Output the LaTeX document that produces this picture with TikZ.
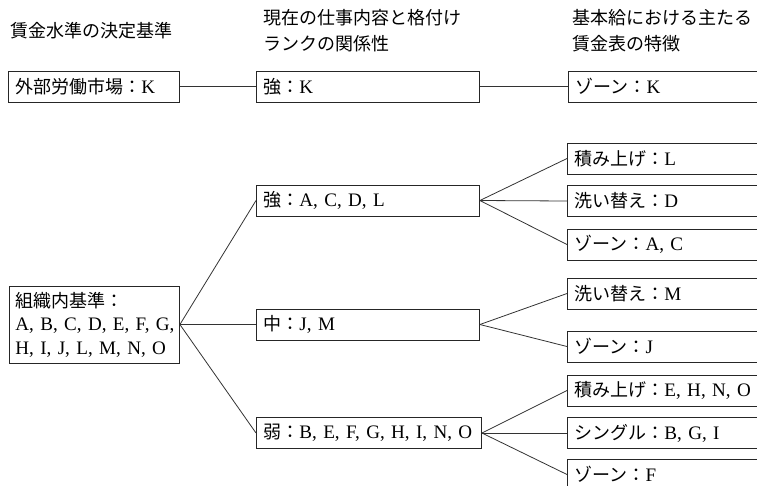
\documentclass[tikz,border=0pt]{standalone}
\usepackage{fontspec}
\setmainfont{Liberation Serif}[Scale=1.06]
\newfontfamily\cjk{Noto Sans CJK JP}
\newcommand\J[1]{{\cjk #1}}
\begin{document}
\begin{tikzpicture}[x=1pt,y=-1pt,font=\fontsize{18}{23.5}\selectfont,
  bx/.style={draw=black!85, line width=0.9pt, rectangle, minimum height=31pt,
    inner xsep=7pt, inner ysep=0pt, align=left, anchor=west},
  hd/.style={inner sep=0pt, align=left, anchor=west, font=\fontsize{18}{26}\selectfont},
  ln/.style={draw=black!80, line width=0.8pt}]
\useasboundingbox (0,0) rectangle (757,485);
\clip (0,0) rectangle (757,485);
% headers
\node[hd] (h1) at (10,31) {\J{賃金水準の決定基準}};
\node[hd] (h2) at (263,31) {\J{現在の仕事内容と格付け}\\\J{ランクの関係性}};
\node[hd] (h3) at (572,31) {\J{基本給における主たる}\\\J{賃金表の特徴}};
% row 1
\node[bx, text width=157pt] (ext) at (8,86.5) {\mbox{\J{外部労働市場：}K}};
\node[bx, text width=209pt] (k2) at (256,86.5) {\mbox{\J{強：}K}};
\node[bx, text width=219pt] (k3) at (568,86.5) {\mbox{\J{ゾーン：}K}};
% organisation
\node[bx, text width=158pt, inner xsep=6pt, minimum height=77pt] (org) at (9,324.5)
  {\mbox{\J{組織内基準：}}\\\mbox{A, B, C, D, E, F, G,}\\\mbox{H, I, J, L, M, N, O}};
% middle
\node[bx, text width=209pt] (s1) at (256,200.5) {\mbox{\J{強：}A, C, D, L}};
\node[bx, text width=209pt] (s2) at (256,324.5) {\mbox{\J{中：}J, M}};
\node[bx, text width=211pt] (s3) at (256,433) {\mbox{\J{弱：}B, E, F, G, H, I, N, O}};
% right
\node[bx, text width=219pt] (r1) at (567,158.5) {\mbox{\J{積み上げ：}L}};
\node[bx, text width=219pt] (r2) at (567,201) {\mbox{\J{洗い替え：}D}};
\node[bx, text width=219pt] (r3) at (567,244.5) {\mbox{\J{ゾーン：}A, C}};
\node[bx, text width=219pt] (r4) at (567,293.5) {\mbox{\J{洗い替え：}M}};
\node[bx, text width=219pt] (r5) at (567,346.5) {\mbox{\J{ゾーン：}J}};
\node[bx, text width=219pt] (r6) at (567,390.5) {\mbox{\J{積み上げ：}E, H, N, O}};
\node[bx, text width=219pt] (r7) at (567,433) {\mbox{\J{シングル：}B, G, I}};
\node[bx, text width=219pt] (r8) at (567,474.5) {\mbox{\J{ゾーン：}F}};
% connectors
\draw[ln] (ext.east) -- (k2.west);
\draw[ln] (k2.east) -- (k3.west);
\draw[ln] (org.east) -- (s1.west);
\draw[ln] (org.east) -- (s2.west);
\draw[ln] (org.east) -- (s3.west);
\draw[ln] (s1.east) -- (r1.west);
\draw[ln] (s1.east) -- (r2.west);
\draw[ln] (s1.east) -- (r3.west);
\draw[ln] (s2.east) -- (r4.west);
\draw[ln] (s2.east) -- (r5.west);
\draw[ln] (s3.east) -- (r6.west);
\draw[ln] (s3.east) -- (r7.west);
\draw[ln] (s3.east) -- (r8.west);
\end{tikzpicture}
\end{document}
